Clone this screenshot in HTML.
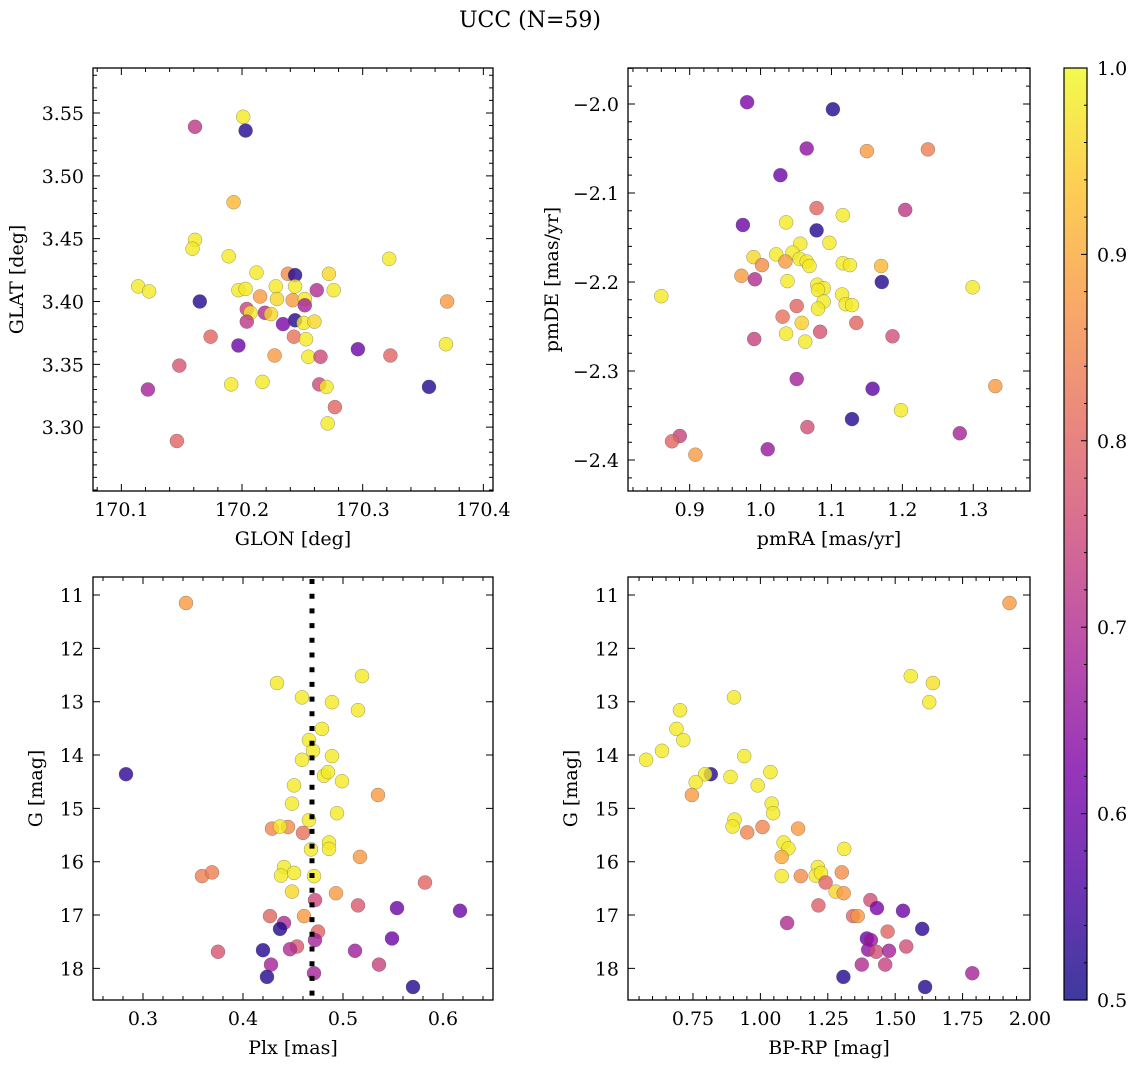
<!DOCTYPE html>
<html><head><meta charset="utf-8">
<style>
html,body{margin:0;padding:0;background:#fff;}
svg{display:block;font-family:"DejaVu Serif","Liberation Serif",serif;}
</style></head>
<body>
<svg id="fig" width="1136" height="1067" viewBox="0 0 1136 1067" xmlns="http://www.w3.org/2000/svg">
<defs>
<linearGradient id="cbgrad" x1="0" y1="1" x2="0" y2="0">
<stop offset="0" stop-color="#0d0887"/><stop offset="0.125" stop-color="#4c02a1"/><stop offset="0.25" stop-color="#7e03a8"/><stop offset="0.375" stop-color="#a92395"/><stop offset="0.5" stop-color="#cc4778"/><stop offset="0.625" stop-color="#e56b5d"/><stop offset="0.75" stop-color="#f89540"/><stop offset="0.875" stop-color="#fdc328"/><stop offset="1" stop-color="#f0f921"/>
</linearGradient>
</defs>
<text x="530" y="27" font-size="22" text-anchor="middle">UCC (N=59)</text>
</svg>
<script>
// ---- Panel 1: GLON vs GLAT ----
const glon = [170.201,170.161,170.203,170.193,170.161,170.159,170.189,170.322,170.212,170.238,170.244,170.272,170.114,170.123,170.197,170.203,170.228,170.244,170.262,170.276,170.165,170.370,170.215,170.229,170.242,170.252,170.204,170.207,170.219,170.224,170.252,170.244,170.251,170.260,170.204,170.234,170.174,170.243,170.253,170.197,170.227,170.255,170.265,170.296,170.323,170.369,170.148,170.217,170.191,170.264,170.270,170.122,170.355,170.277,170.271,170.146];
const glat = [3.547,3.539,3.536,3.479,3.449,3.442,3.436,3.434,3.423,3.422,3.421,3.422,3.412,3.408,3.409,3.410,3.412,3.412,3.409,3.409,3.400,3.400,3.404,3.402,3.401,3.402,3.394,3.391,3.391,3.390,3.397,3.385,3.383,3.384,3.384,3.382,3.372,3.372,3.370,3.365,3.357,3.356,3.356,3.362,3.357,3.366,3.349,3.336,3.334,3.334,3.332,3.330,3.332,3.316,3.303,3.289];
const prob1 = [0.98,0.72,0.52,0.92,0.98,0.98,0.98,0.98,0.98,0.86,0.52,0.96,0.98,0.98,0.98,0.98,0.98,0.98,0.70,0.98,0.52,0.88,0.88,0.96,0.88,0.98,0.74,0.98,0.70,0.96,0.68,0.52,0.98,0.96,0.72,0.62,0.80,0.82,0.98,0.60,0.88,0.98,0.75,0.60,0.80,0.98,0.77,0.98,0.98,0.75,0.98,0.68,0.52,0.80,0.98,0.80];
// ---- Panel 2: pmRA vs pmDE ----
const pmra = [0.981,1.102,1.065,1.150,1.236,1.028,1.079,1.204,0.975,1.036,1.116,1.079,1.097,1.056,1.022,1.045,0.990,1.055,1.065,1.069,1.116,1.126,1.002,1.035,0.973,1.170,1.038,0.992,1.171,1.299,1.080,1.089,1.081,1.089,1.115,1.120,1.129,1.081,0.860,1.051,1.031,1.058,1.135,1.084,1.036,1.063,0.991,1.186,1.051,1.158,1.331,1.198,1.129,1.066,1.281,0.886,0.875,1.010,0.908];
const pmde = [-1.998,-2.006,-2.050,-2.053,-2.051,-2.080,-2.117,-2.119,-2.136,-2.133,-2.125,-2.142,-2.156,-2.157,-2.169,-2.167,-2.172,-2.174,-2.177,-2.182,-2.179,-2.181,-2.181,-2.177,-2.193,-2.182,-2.199,-2.197,-2.200,-2.206,-2.203,-2.207,-2.209,-2.222,-2.214,-2.225,-2.226,-2.230,-2.216,-2.227,-2.239,-2.246,-2.246,-2.256,-2.258,-2.267,-2.264,-2.261,-2.309,-2.320,-2.317,-2.344,-2.354,-2.363,-2.370,-2.373,-2.379,-2.388,-2.394];
const prob2 = [0.62,0.52,0.65,0.88,0.84,0.60,0.80,0.72,0.60,0.98,0.98,0.52,0.98,0.98,0.98,0.98,0.96,0.98,0.98,0.98,0.98,0.98,0.86,0.88,0.88,0.92,0.98,0.70,0.52,0.98,0.98,0.98,0.98,0.98,0.98,0.98,0.98,0.98,0.98,0.80,0.82,0.95,0.80,0.77,0.98,0.98,0.74,0.76,0.68,0.58,0.88,0.98,0.52,0.76,0.68,0.74,0.80,0.66,0.88];
// ---- Panel 3: Plx vs G ----
const plx = [0.343,0.434,0.519,0.459,0.489,0.515,0.479,0.466,0.470,0.489,0.459,0.283,0.481,0.485,0.499,0.451,0.535,0.449,0.494,0.466,0.429,0.445,0.437,0.460,0.486,0.486,0.468,0.517,0.441,0.451,0.438,0.471,0.359,0.369,0.582,0.449,0.493,0.472,0.515,0.554,0.617,0.427,0.461,0.441,0.437,0.475,0.549,0.472,0.420,0.375,0.454,0.447,0.512,0.428,0.536,0.424,0.471,0.570];
const gmag3 = [11.15,12.65,12.52,12.92,13.01,13.16,13.51,13.72,13.92,14.02,14.09,14.36,14.39,14.32,14.49,14.57,14.75,14.91,15.09,15.22,15.38,15.35,15.34,15.46,15.64,15.76,15.77,15.91,16.10,16.21,16.26,16.27,16.27,16.20,16.39,16.56,16.59,16.72,16.82,16.87,16.92,17.02,17.02,17.15,17.26,17.31,17.44,17.47,17.66,17.69,17.59,17.64,17.67,17.93,17.93,18.16,18.09,18.35];
const prob3 = [0.88,0.98,0.98,0.98,0.98,0.98,0.98,0.98,0.98,0.98,0.98,0.53,0.98,0.98,0.98,0.98,0.88,0.98,0.98,0.98,0.85,0.86,0.98,0.82,0.98,0.98,0.98,0.88,0.98,0.98,0.98,0.98,0.84,0.84,0.80,0.96,0.88,0.75,0.78,0.60,0.60,0.80,0.88,0.70,0.52,0.80,0.60,0.68,0.52,0.77,0.78,0.70,0.67,0.68,0.74,0.52,0.68,0.52];
const plxRef = [0.469];
// ---- Panel 4: BP-RP vs G ----
const bprp = [1.924,1.558,1.640,1.626,0.902,0.702,0.689,0.714,0.635,0.576,0.940,0.816,0.795,0.760,0.889,1.037,0.990,0.746,1.042,1.047,0.904,0.897,1.008,0.951,1.140,1.086,1.104,1.079,1.311,1.079,1.150,1.213,1.205,1.225,1.302,1.242,1.279,1.309,1.408,1.215,1.432,1.529,1.099,1.344,1.361,1.600,1.395,1.410,1.472,1.400,1.430,1.477,1.541,1.376,1.463,1.308,1.611,1.786];
const gmag4 = [11.15,12.52,12.65,13.01,12.92,13.16,13.51,13.72,13.92,14.09,14.02,14.36,14.36,14.51,14.41,14.32,14.57,14.75,14.91,15.09,15.21,15.34,15.35,15.45,15.38,15.64,15.75,15.91,15.76,16.27,16.27,16.10,16.26,16.21,16.20,16.39,16.56,16.59,16.72,16.82,16.87,16.92,17.15,17.02,17.02,17.26,17.44,17.47,17.31,17.65,17.69,17.67,17.59,17.93,17.93,18.16,18.35,18.09];
const prob4 = [0.88,0.98,0.97,0.98,0.98,0.98,0.98,0.98,0.98,0.98,0.98,0.52,0.98,0.98,0.98,0.98,0.98,0.88,0.98,0.98,0.98,0.98,0.85,0.85,0.88,0.98,0.98,0.90,0.98,0.98,0.86,0.98,0.98,0.98,0.86,0.80,0.96,0.88,0.76,0.79,0.62,0.60,0.70,0.80,0.88,0.53,0.60,0.66,0.80,0.65,0.76,0.68,0.76,0.70,0.74,0.52,0.52,0.68];
// ---- Tick labels ----
const p1XTicks = [170.1,170.2,170.3,170.4];
const p1YTicks = [3.30,3.35,3.40,3.45,3.50,3.55];
const p2XTicks = [0.9,1.0,1.1,1.2,1.3];
const p2YTicks = [-2.0,-2.1,-2.2,-2.3,-2.4];
const p3XTicks = [0.3,0.4,0.5,0.6];
const gTicks = [11,12,13,14,15,16,17,18];
const p4XTicks = [0.75,1.00,1.25,1.50,1.75,2.00];
const cbTicks = [0.5,0.6,0.7,0.8,0.9,1.0];

const NS = "http://www.w3.org/2000/svg";
const svg = document.getElementById('fig');
function mk(tag, attrs, parent){ const e=document.createElementNS(NS,tag); for(const k in attrs) e.setAttribute(k,attrs[k]); (parent||svg).appendChild(e); return e; }

const stops=[[0,[13,8,135]],[0.125,[76,2,161]],[0.25,[126,3,168]],[0.375,[169,35,149]],[0.5,[204,71,120]],[0.625,[229,107,93]],[0.75,[248,149,64]],[0.875,[253,195,40]],[1,[240,249,33]]];
function plasma(v){ let t=(v-0.5)/0.5; t=Math.max(0,Math.min(1,t));
  for(let i=0;i<stops.length-1;i++){ const a=stops[i],b=stops[i+1]; if(t<=b[0]){ const f=(t-a[0])/(b[0]-a[0]); const c=a[1].map((x,j)=>Math.round(x+(b[1][j]-x)*f)); return 'rgb('+c.join(',')+')'; } }
  return 'rgb(240,249,33)'; }
function fmt(v,d){ return (v<0?'\u2212':'')+Math.abs(v).toFixed(d); }

const FS = 19;
function panel(cfg){
  const g=mk('g',{});
  
  
  const sx=v=>cfg.x0+(v-cfg.xd[0])/(cfg.xd[1]-cfg.xd[0])*(cfg.x1-cfg.x0);
  const sy=v=>cfg.y1-(v-cfg.yd[0])/(cfg.yd[1]-cfg.yd[0])*(cfg.y1-cfg.y0);
  const pg=mk('g',{},g);
  
  
  for(let i=0;i<cfg.xs.length;i++){
    const c=mk('circle',{cx:sx(cfg.xs[i]).toFixed(1),cy:sy(cfg.ys[i]).toFixed(1),r:7,fill:plasma(cfg.cs[i]),'fill-opacity':0.8,stroke:'#555','stroke-opacity':0.6,'stroke-width':0.5},pg);
    
    
  }
  const fr=mk('rect',{x:cfg.x0,y:cfg.y0,width:cfg.x1-cfg.x0,height:cfg.y1-cfg.y0,fill:'none',stroke:'#000','stroke-width':1.3},g);
  
  
  let d='';
  const eps=1e-9;
  for(let v=Math.ceil(cfg.xd[0]/cfg.xmin-eps)*cfg.xmin; v<=cfg.xd[1]+eps; v+=cfg.xmin){ const x=sx(v); d+=`M${x},${cfg.y1}v-4M${x},${cfg.y0}v4`; }
  for(let v=Math.ceil(cfg.yd[0]/cfg.ymin-eps)*cfg.ymin; v<=cfg.yd[1]+eps; v+=cfg.ymin){ const y=sy(v); d+=`M${cfg.x0},${y}h4M${cfg.x1},${y}h-4`; }
  for(const v of cfg.xt){ const x=sx(v); d+=`M${x},${cfg.y1}v-7M${x},${cfg.y0}v7`; }
  for(const v of cfg.yt){ const y=sy(v); d+=`M${cfg.x0},${y}h7M${cfg.x1},${y}h-7`; }
  const tp=mk('path',{d:d,stroke:'#000','stroke-width':1,fill:'none'},g);
  
  
  for(const v of cfg.xt){
    const t=mk('text',{x:sx(v),y:cfg.y1+25,'font-size':FS,'text-anchor':'middle'},g); t.textContent=fmt(v,cfg.xdp);
    
    
  }
  for(const v of cfg.yt){
    const t=mk('text',{x:cfg.x0-9,y:sy(v)+7,'font-size':FS,'text-anchor':'end'},g); t.textContent=fmt(v,cfg.ydp);
    
    
  }
  const xl=mk('text',{x:(cfg.x0+cfg.x1)/2,y:cfg.y1+54,'font-size':FS,'text-anchor':'middle'},g); xl.textContent=cfg.xlabel;
  
  
  const yc=(cfg.y0+cfg.y1)/2;
  const yl=mk('text',{x:cfg.ylx,y:yc,'font-size':FS,'text-anchor':'middle',transform:`rotate(-90 ${cfg.ylx} ${yc})`},g); yl.textContent=cfg.ylabel;
  
  
}

panel({name:'glon-glat-panel',x0:93,x1:493,y0:68,y1:491,xd:[170.0765,170.408],yd:[3.2492,3.5858],xs:glon,ys:glat,cs:prob1,xt:p1XTicks,yt:p1YTicks,xmin:0.02,ymin:0.01,xdp:1,ydp:2,xlabel:'GLON [deg]',ylabel:'GLAT [deg]',ylx:23});
panel({name:'pm-panel',x0:628,x1:1030,y0:68,y1:491,xd:[0.813,1.380],yd:[-2.4348,-1.9596],xs:pmra,ys:pmde,cs:prob2,xt:p2XTicks,yt:p2YTicks,xmin:0.02,ymin:0.02,xdp:1,ydp:1,xlabel:'pmRA [mas/yr]',ylabel:'pmDE [mas/yr]',ylx:558});
panel({name:'plx-g-panel',x0:93,x1:493,y0:577,y1:1000,xd:[0.25,0.65],yd:[18.593,10.662],xs:plx,ys:gmag3,cs:prob3,xt:p3XTicks,yt:gTicks,xmin:0.02,ymin:0.2,xdp:1,ydp:0,xlabel:'Plx [mas]',ylabel:'G [mag]',ylx:42});
panel({name:'cmd-panel',x0:628,x1:1030,y0:577,y1:1000,xd:[0.509,2.0],yd:[18.593,10.662],xs:bprp,ys:gmag4,cs:prob4,xt:p4XTicks,yt:gTicks,xmin:0.05,ymin:0.2,xdp:2,ydp:0,xlabel:'BP-RP [mag]',ylabel:'G [mag]',ylx:577});

// dotted reference line (drawn on top of panel 3)
(function(){
  const x0=93,x1=493,y0=577,y1=1000,xd=[0.25,0.65];
  const sx=v=>x0+(v-xd[0])/(xd[1]-xd[0])*(x1-x0);
  for(const v of plxRef){
    const l=mk('line',{x1:sx(v),x2:sx(v),y1:y0+2,y2:y1,stroke:'#000','stroke-width':5,'stroke-dasharray':'5 9.7'});
    
    
  }
})();

// colorbar
const cb=mk('g',{});


const cbx0=1064,cbx1=1087,cby0=68,cby1=1000;
const cbr=mk('rect',{x:cbx0,y:cby0,width:cbx1-cbx0,height:cby1-cby0,fill:'url(#cbgrad)','fill-opacity':0.8,stroke:'#000','stroke-width':1.2},cb);


const cy=v=>cby1-(v-0.5)/0.5*(cby1-cby0);
let cd='';
for(let v=0.52; v<0.999; v+=0.02){ cd+=`M${cbx1},${cy(v)}h-3`; }
for(const v of cbTicks){ cd+=`M${cbx1},${cy(v)}h-6`; }
mk('path',{d:cd,stroke:'#000','stroke-width':1,fill:'none'},cb);
for(const v of cbTicks){
  const t=mk('text',{x:1097,y:cy(v)+7,'font-size':FS},cb); t.textContent=v.toFixed(1);
  
  
}
</script>
</body></html>
